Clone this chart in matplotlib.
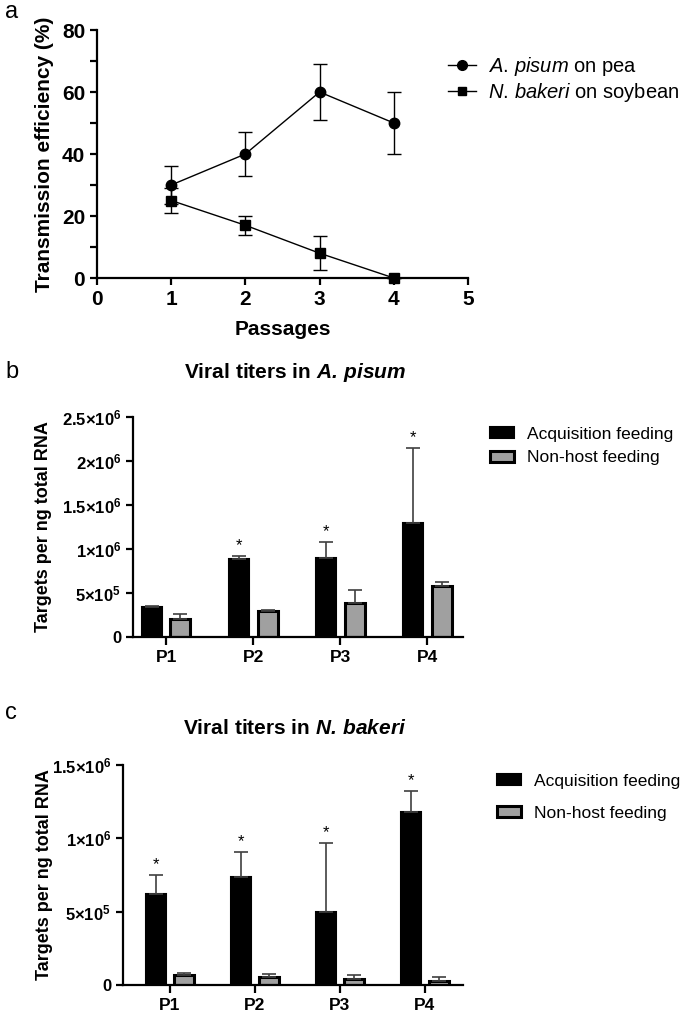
import matplotlib.pyplot as plt
from matplotlib.lines import Line2D
import numpy as np

plt.rcParams['font.family'] = ['Liberation Sans', 'DejaVu Sans']
plt.rcParams['mathtext.fontset'] = 'custom'
plt.rcParams['mathtext.rm'] = 'Liberation Sans'
plt.rcParams['mathtext.it'] = 'Liberation Sans:italic'
plt.rcParams['mathtext.bf'] = 'Liberation Sans:bold'
plt.rcParams['mathtext.bfit'] = 'Liberation Sans:bold:italic'

# panel a
passages = [1, 2, 3, 4]
pisum_eff = [30, 40, 60, 50]
pisum_err = [6, 7, 9, 10]
bakeri_eff = [25, 17, 8, 0]
bakeri_err = [4, 3, 5.5, 0]

# panels b and c
groups = ['P1', 'P2', 'P3', 'P4']
b_acq = [0.34e6, 0.883e6, 0.894e6, 1.30e6]
b_acq_err = [0.015e6, 0.041e6, 0.182e6, 0.85e6]
b_non = [0.21e6, 0.295e6, 0.39e6, 0.584e6]
b_non_err = [0.055e6, 0.015e6, 0.14e6, 0.046e6]
b_star = [False, True, True, True]

c_acq = [0.622e6, 0.734e6, 0.496e6, 1.177e6]
c_acq_err = [0.13e6, 0.175e6, 0.474e6, 0.145e6]
c_non = [0.066e6, 0.057e6, 0.041e6, 0.025e6]
c_non_err = [0.014e6, 0.018e6, 0.027e6, 0.027e6]
c_star = [True, True, True, True]

W, H = 685, 1014
fig = plt.figure(figsize=(W / 100, H / 100), dpi=100)


def px_axes(left, top, right, bottom):
    return fig.add_axes([left / W, 1 - bottom / H, (right - left) / W, (bottom - top) / H])


def style(ax):
    for s in ['top', 'right']:
        ax.spines[s].set_visible(False)
    for s in ['left', 'bottom']:
        ax.spines[s].set_linewidth(1.6)
    ax.tick_params(width=1.6, length=5, direction='out')


# ---- a ----
ax = px_axes(97, 30, 468, 278)
style(ax)
ax.errorbar(passages, pisum_eff, yerr=pisum_err, fmt='-o', color='black', ms=7.5,
            lw=1, elinewidth=1, capsize=5, capthick=1, clip_on=False, zorder=3)
ax.errorbar(passages, bakeri_eff, yerr=bakeri_err, fmt='-s', color='black', ms=7,
            lw=1, elinewidth=1, capsize=5, capthick=1, clip_on=False, zorder=3)
ax.set_xlim(0, 5)
ax.set_ylim(0, 80)
ax.set_yticks([0, 20, 40, 60, 80])
ax.set_yticks([10, 30, 50, 70], minor=True)
ax.tick_params(which='minor', width=1.6, length=5)
ax.tick_params(labelsize=15)
for t in ax.get_xticklabels() + ax.get_yticklabels():
    t.set_fontweight('bold')
ax.set_xlabel('Passages', fontsize=15, fontweight='bold', labelpad=8)
ax.set_ylabel('Transmission efficiency (%)', fontsize=15, fontweight='bold')
ax.yaxis.set_label_coords(-0.117, 0.5)
handles = [Line2D([], [], color='black', marker='o', ms=7, lw=1),
           Line2D([], [], color='black', marker='s', ms=6, lw=1)]
ax.legend(handles, [r'$\mathit{A.\,pisum}$ on pea', r'$\mathit{N.\,bakeri}$ on soybean'],
          loc='upper left', bbox_to_anchor=(430 / W, 1 - 37 / H), bbox_transform=fig.transFigure,
          frameon=False, fontsize=14.5, handlelength=1.4, handletextpad=0.6, labelspacing=0.15)
fig.text(5 / W, 1 - 12 / H, 'a', fontsize=17, va='center', ha='left')


def sci(v, _pos=None):
    if v == 0:
        return '0'
    e = int(np.floor(np.log10(v)))
    m = v / 10 ** e
    return ('%g' % m) + '\u00d710' + r'$^{\mathbf{%d}}$' % e


def bar_panel(left, top, right, bottom, acq, acq_err, non, non_err, star, ymax, xlim,
              title, title_y, label, label_y, leg_xy, leg_sp, lab_x):
    ax = px_axes(left, top, right, bottom)
    style(ax)
    x = np.arange(len(groups))
    w = 0.23
    ax.bar(x - 0.165, acq, w, color='black', edgecolor='black', lw=1.5,
           yerr=[np.zeros(4), acq_err], ecolor='#404040', capsize=5,
           error_kw=dict(elinewidth=1.2, capthick=1.2), label='Acquisition feeding')
    ax.bar(x + 0.165, non, w, color='#a0a0a0', edgecolor='black', lw=2.2,
           yerr=[np.zeros(4), non_err], ecolor='#404040', capsize=5,
           error_kw=dict(elinewidth=1.2, capthick=1.2), label='Non-host feeding')
    for i in range(4):
        if star[i]:
            ax.annotate('*', (x[i] - 0.165, acq[i] + acq_err[i]), xytext=(0, 2),
                        textcoords='offset points', ha='center', va='bottom', fontsize=12)
    ax.set_xlim(*xlim)
    ax.set_ylim(0, ymax)
    ax.set_yticks(np.arange(0, ymax + 1, 5e5))
    ax.yaxis.set_major_formatter(plt.FuncFormatter(sci))
    ax.set_xticks(x)
    ax.set_xticklabels(groups)
    ax.tick_params(axis='y', labelsize=12)
    ax.tick_params(axis='x', labelsize=12.5, length=6)
    for t in ax.get_xticklabels() + ax.get_yticklabels():
        t.set_fontweight('bold')
    ax.set_ylabel('Targets per ng total RNA', fontsize=13, fontweight='bold')
    ax.yaxis.set_label_coords(lab_x, 0.5)
    fig.text(295 / W, 1 - title_y / H, title, fontsize=15, fontweight='bold',
             ha='center', va='center')
    ax.legend(loc='upper left', bbox_to_anchor=(leg_xy[0] / W, 1 - leg_xy[1] / H),
              bbox_transform=fig.transFigure, frameon=False, fontsize=12.5,
              handlelength=1.4, handleheight=0.6, handletextpad=0.75, labelspacing=leg_sp)
    fig.text(5 / W, 1 - label_y / H, label, fontsize=17, va='center', ha='left')
    return ax


bar_panel(133, 417, 463, 637, b_acq, b_acq_err, b_non, b_non_err, b_star, 2.5e6,
          (-0.38, 3.41), r'Viral titers in $\mathbfit{A.\,pisum}$', 372, 'b', 372,
          (474, 411), 0.5, -0.245)
bar_panel(123, 765, 463, 985, c_acq, c_acq_err, c_non, c_non_err, c_star, 1.5e6,
          (-0.55, 3.45), r'Viral titers in $\mathbfit{N.\,bakeri}$', 728, 'c', 713,
          (481, 758), 1.0, -0.206)

fig.savefig('out.png', dpi=100)
